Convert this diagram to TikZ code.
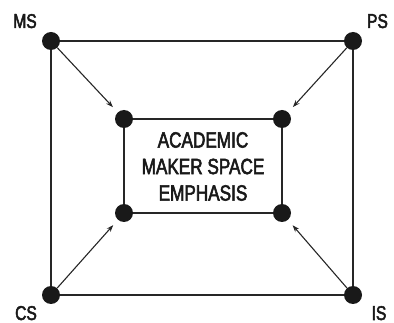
\documentclass[tikz,border=0pt]{standalone}
\usepackage{fontspec}
\setmainfont{Liberation Sans}[FakeStretch=0.78, FakeBold=2.5]
\usetikzlibrary{arrows.meta}

\begin{document}
\begin{tikzpicture}[x=1pt, y=-1pt,
    dot/.style={circle, fill=black!90, inner sep=0pt, minimum size=18pt},
    edge/.style={line width=1.8pt, black!85},
    push/.style={line width=1.1pt, black!85, -{Stealth[length=7pt, width=5pt]}, shorten >=7pt},
    corner/.style={anchor=base, inner sep=0pt, text=black!90, font=\fontsize{20}{24}\selectfont}]
  \useasboundingbox (0,0) rectangle (394,323);
  % outer square
  \node[dot] (ms) at (51, 41) {};
  \node[dot] (ps) at (353, 41) {};
  \node[dot] (cs) at (51, 295) {};
  \node[dot] (is) at (353, 295) {};
  % inner square
  \node[dot] (a1) at (124, 119) {};
  \node[dot] (a2) at (282, 119) {};
  \node[dot] (a3) at (124, 213) {};
  \node[dot] (a4) at (282, 213) {};
  \draw[edge] (ms) -- (ps);
  \draw[edge] (ps) -- (is);
  \draw[edge] (is) -- (cs);
  \draw[edge] (cs) -- (ms);
  \draw[edge] (a1) -- (a2);
  \draw[edge] (a2) -- (a4);
  \draw[edge] (a4) -- (a3);
  \draw[edge] (a3) -- (a1);
  \draw[push] (ms) -- (a1);
  \draw[push] (ps) -- (a2);
  \draw[push] (cs) -- (a3);
  \draw[push] (is) -- (a4);
  % labels
  \node[corner] (msl) at (25, 28) {MS};
  \node[corner] (psl) at (377.5, 28) {PS};
  \node[corner] (csl) at (26, 320) {CS};
  \node[corner] (isl) at (379, 320) {IS};
  \node[align=center, inner sep=0pt, text=black!90, font=\fontsize{22}{26.5}\selectfont]
    (focus) at (203, 166.5) {ACADEMIC\\MAKER SPACE\\EMPHASIS};
\end{tikzpicture}
\end{document}
